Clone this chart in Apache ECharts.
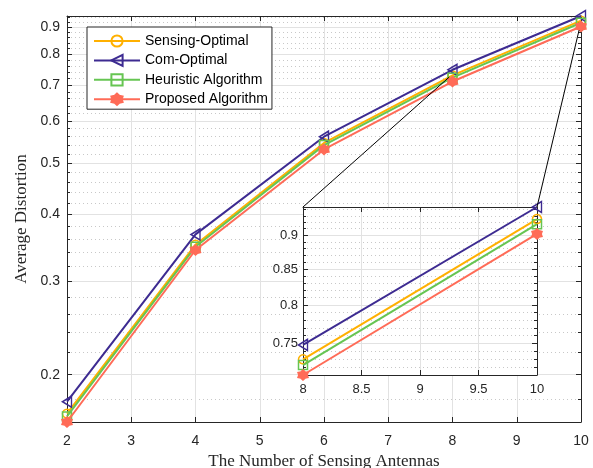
<!DOCTYPE html>
<html><head><meta charset="utf-8">
<script src="https://cdn.jsdelivr.net/npm/echarts@6/dist/echarts.min.js"></script>
<style>html,body{margin:0;padding:0;background:#fff}#c{width:593px;height:468px}</style>
</head><body><div id="c"></div>
<script>
// ---- data ----
const antennas = [2, 4, 6, 8, 10];
const sensingOptimal = [0.169, 0.351, 0.545, 0.730, 0.925];
const comOptimal     = [0.178, 0.367, 0.560, 0.748, 0.944];
const heuristic      = [0.167, 0.348, 0.540, 0.723, 0.917];
const proposed       = [0.163, 0.343, 0.530, 0.711, 0.902];
const seriesNames = ['Sensing-Optimal', 'Com-Optimal', 'Heuristic Algorithm', 'Proposed Algorithm'];
const mainXTicks = [2, 3, 4, 5, 6, 7, 8, 9, 10];
const mainYTicks = [0.2, 0.3, 0.4, 0.5, 0.6, 0.7, 0.8, 0.9];
const mainYMinor = [0.18, 0.22, 0.24, 0.26, 0.28, 0.32, 0.34, 0.36, 0.38, 0.42, 0.44, 0.46, 0.48,
                    0.52, 0.54, 0.56, 0.58, 0.62, 0.64, 0.66, 0.68, 0.72, 0.74, 0.76, 0.78,
                    0.82, 0.84, 0.86, 0.88, 0.92, 0.94];
const insetXTicks = [8, 8.5, 9, 9.5, 10];
const insetYTicks = [0.75, 0.8, 0.85, 0.9];
const insetYMinor = [0.72, 0.73, 0.74, 0.76, 0.77, 0.78, 0.79, 0.81, 0.82, 0.83, 0.84,
                     0.86, 0.87, 0.88, 0.89, 0.91, 0.92, 0.93, 0.94];
const mainYRange = [0.163, 0.944];
const insetYRange = [0.711, 0.944];
const zoomAnchors = [[7.95, 0.725], [9.97, 0.888]];
const xLabel = 'The Number of Sensing Antennas';
const yLabel = 'Average Distortion';

// ---- styling ----
const colors = ['#FFB000', '#3D2B91', '#66C552', '#FF6B57'];
const lg = v => Math.log10(v);
const fmt = v => String(parseFloat(Math.pow(10, v).toFixed(2)));
const AX = '#262626';
const sans = 'Liberation Sans';
const serif = 'Liberation Serif';

function star() {
  let d = '';
  for (let i = 0; i < 12; i++) {
    const r = i % 2 === 0 ? 10 : 7.2;
    const a = Math.PI / 2 + i * Math.PI / 6;
    const x = 10 + r * Math.cos(a), y = 10 - r * Math.sin(a);
    d += (i === 0 ? 'M' : 'L') + x.toFixed(2) + ',' + y.toFixed(2);
  }
  return 'path://' + d + 'Z';
}
const symbols = [
  {symbol: 'circle', size: 9, fill: 'rgba(255,255,255,0)'},
  {symbol: 'path://M0,5L10,0L10,10Z', size: [9, 11], fill: 'rgba(255,255,255,0)'},
  {symbol: 'rect', size: 9, fill: 'rgba(255,255,255,0)'},
  {symbol: star(), size: 10, fill: null}
];
const allData = [sensingOptimal, comOptimal, heuristic, proposed];

function yAxes(gi, range, majors, minors, withLabels, labelSize, z) {
  const base = {gridIndex: gi, type: 'value', min: lg(range[0]), max: lg(range[1]), z: z};
  return [
    Object.assign({}, base, {position: 'left',
      axisLine: {show: true, lineStyle: {color: AX, width: 1}},
      axisTick: {show: true, inside: true, length: 5, customValues: majors.map(lg), lineStyle: {color: AX}},
      axisLabel: {show: withLabels, customValues: majors.map(lg), formatter: fmt, fontSize: labelSize,
        fontFamily: sans, color: AX, margin: gi === 0 ? 7 : 5},
      splitLine: {show: true, lineStyle: {color: '#e2e2e2', width: 1}},
      name: gi === 0 ? yLabel : '', nameLocation: 'middle', nameRotate: 90, nameGap: 37,
      nameTextStyle: {fontFamily: serif, fontSize: 17, color: AX}}),
    Object.assign({}, base, {position: 'right',
      axisLine: {show: true, lineStyle: {color: AX, width: 1}},
      axisTick: {show: true, inside: true, length: 5, customValues: majors.map(lg), lineStyle: {color: AX}},
      axisLabel: {show: false}, splitLine: {show: false}}),
    Object.assign({}, base, {position: 'left',
      axisLine: {show: false},
      axisTick: {show: true, inside: true, length: 3, customValues: minors.map(lg), lineStyle: {color: AX}},
      axisLabel: {show: false},
      splitLine: {show: true, lineStyle: {color: '#c8c8c8', width: 1, type: [1, 3]}}}),
    Object.assign({}, base, {position: 'right',
      axisLine: {show: false},
      axisTick: {show: true, inside: true, length: 3, customValues: minors.map(lg), lineStyle: {color: AX}},
      axisLabel: {show: false}, splitLine: {show: false}})
  ];
}
function xAxes(gi, min, max, interval, labelSize, margin, z) {
  const base = {gridIndex: gi, type: 'value', min: min, max: max, interval: interval, z: z};
  return [
    Object.assign({}, base, {position: 'bottom',
      axisLine: {show: true, onZero: false, lineStyle: {color: AX, width: 1}},
      axisTick: {show: true, inside: true, length: 5, lineStyle: {color: AX}},
      axisLabel: {fontSize: labelSize, fontFamily: sans, color: AX, margin: margin},
      splitLine: {show: true, lineStyle: {color: '#e2e2e2', width: 1}},
      name: gi === 0 ? xLabel : '', nameLocation: 'middle', nameGap: 31,
      nameTextStyle: {fontFamily: serif, fontSize: 17, color: AX}}),
    Object.assign({}, base, {position: 'top',
      axisLine: {show: true, onZero: false, lineStyle: {color: AX, width: 1}},
      axisTick: {show: true, inside: true, length: 5, lineStyle: {color: AX}},
      axisLabel: {show: false}, splitLine: {show: false}})
  ];
}

const series = [];
[0, 1].forEach(gi => {
  allData.forEach((vals, i) => {
    series.push({
      name: seriesNames[i], type: 'line',
      xAxisIndex: gi === 0 ? 0 : 2, yAxisIndex: gi === 0 ? 0 : 4,
      data: antennas.map((x, k) => [x, lg(vals[k])]).filter(p => gi === 0 || p[0] >= 8),
      symbol: symbols[i].symbol, symbolSize: symbols[i].size, showSymbol: true,
      lineStyle: {color: colors[i], width: 2},
      itemStyle: {color: symbols[i].fill || colors[i], borderColor: colors[i], borderWidth: 1.5, opacity: 1},
      z: gi === 0 ? 2 + i * 0.1 : 8 + i * 0.1, animation: false, silent: true
    });
  });
});

const chart = echarts.init(document.getElementById('c'), null, {renderer: 'canvas'});
chart.setOption({
  animation: false,
  backgroundColor: '#fff',
  grid: [
    {left: 67, right: 12, top: 16, bottom: 46, containLabel: false, outerBoundsMode: 'none'},
    {left: 303, right: 56, top: 207, bottom: 93, containLabel: false, outerBoundsMode: 'none', show: true,
     backgroundColor: '#fff', borderWidth: 0, z: 5}
  ],
  xAxis: xAxes(0, 2, 10, 1, 14, 12, 0).concat(xAxes(1, 8, 10, 0.5, 13, 8, 6)),
  yAxis: yAxes(0, mainYRange, mainYTicks, mainYMinor, true, 14, 0)
    .concat(yAxes(1, insetYRange, insetYTicks, insetYMinor, true, 13, 6)),
  legend: {
    data: seriesNames, orient: 'vertical', left: 87, top: 27,
    itemWidth: 46, itemHeight: 14, itemGap: 5.4, padding: [7, 4, 3, 6],
    backgroundColor: '#fff', borderColor: AX, borderWidth: 1, z: 20,
    textStyle: {fontSize: 14, fontFamily: sans, color: '#000'}
  },
  series: series
});

const p1 = chart.convertToPixel({xAxisIndex: 2, yAxisIndex: 4}, [8, lg(insetYRange[1])]);
const p2 = chart.convertToPixel({xAxisIndex: 2, yAxisIndex: 4}, [10, lg(insetYRange[1])]);
const q1 = chart.convertToPixel({xAxisIndex: 0, yAxisIndex: 0}, [zoomAnchors[0][0], lg(zoomAnchors[0][1])]);
const q2 = chart.convertToPixel({xAxisIndex: 0, yAxisIndex: 0}, [zoomAnchors[1][0], lg(zoomAnchors[1][1])]);
chart.setOption({
  graphic: [
    {type: 'line', shape: {x1: p1[0], y1: p1[1], x2: q1[0], y2: q1[1]}, style: {stroke: '#000', lineWidth: 1}, z: 30},
    {type: 'line', shape: {x1: p2[0], y1: p2[1], x2: q2[0], y2: q2[1]}, style: {stroke: '#000', lineWidth: 1}, z: 30}
  ]
});
</script>
</body></html>
